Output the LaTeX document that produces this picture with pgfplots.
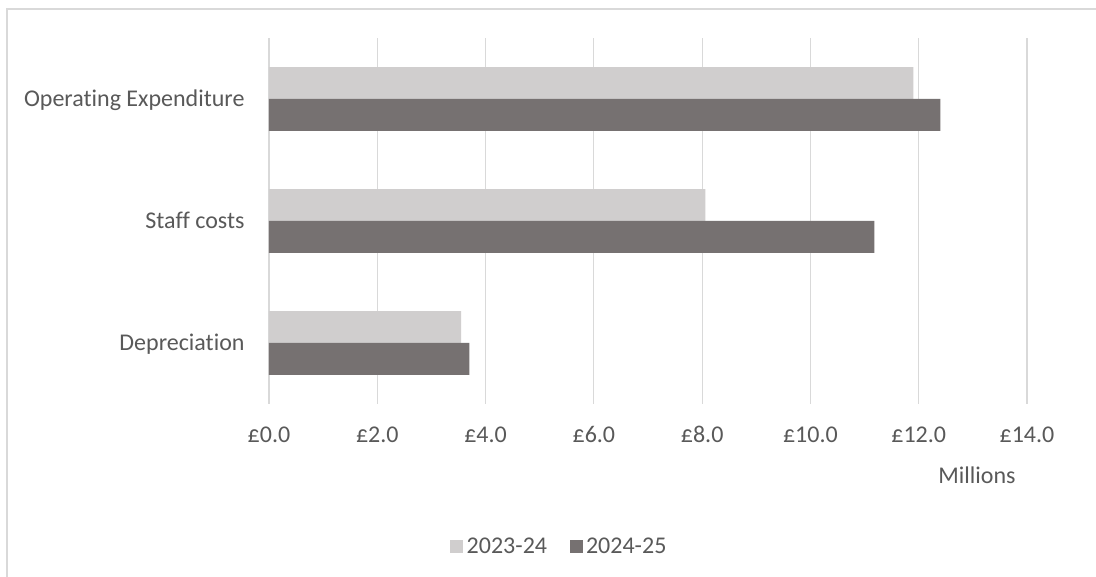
\documentclass[border=0pt]{standalone}
\usepackage{fontspec}
\setmainfont{Carlito}[Ligatures=NoCommon]
\usepackage{pgfplots}
\pgfplotsset{compat=1.18}

\definecolor{barlight}{HTML}{D0CECE}
\definecolor{bardark}{HTML}{767171}
\definecolor{textgray}{HTML}{595959}
\definecolor{gridgray}{HTML}{D9D9D9}

\newcommand{\chartfont}{\fontsize{24}{29}\selectfont}

\begin{document}
\begin{tikzpicture}[x=1pt,y=1pt]
  % page frame
  \path[use as bounding box] (0,0) rectangle (1096,577);
  \fill[white] (0,0) rectangle (1096,577);
  \draw[gridgray, line width=1.5pt] (7,0) -- (7,568) -- (1096,568);

  \begin{axis}[
    at={(269pt,173pt)}, anchor=south west,
    scale only axis,
    width=758pt, height=366pt,
    xmin=0, xmax=14,
    ymin=-0.5, ymax=2.5,
    axis line style={draw=none},
    major tick style={draw=none},
    xmajorgrids,
    grid style={gridgray, line width=1.2pt},
    xtick={0,2,4,6,8,10,12,14},
    xticklabels={£0.0,£2.0,£4.0,£6.0,£8.0,£10.0,£12.0,£14.0},
    ytick={0,1,2},
    yticklabels={Depreciation,Staff costs,Operating Expenditure},
    xticklabel style={font=\chartfont, text=textgray, anchor=base, inner sep=0pt, yshift=-38.5pt},
    yticklabel style={font=\chartfont, text=textgray, anchor=base east, inner sep=0pt, xshift=-20pt, yshift=-8pt},
    xlabel={Millions},
    xlabel style={font=\chartfont, text=textgray, at={(axis description cs:0.934,-0.216)}, anchor=base, inner sep=0pt},
    xbar, bar width=0.262, bar shift=0pt,
    legend columns=2,
    legend style={draw=none, fill=none, font=\chartfont, text=textgray,
      at={(axis description cs:0.384,-0.388)}, anchor=center,
      nodes={inner sep=3.5pt},
      /tikz/every even column/.append style={column sep=19pt}},
    legend image code/.code={\fill[#1] (0pt,-6.5pt) rectangle (13pt,6.5pt);},
  ]
    % 2023-24 (upper bar of each pair)
    \addplot[draw=none, fill=barlight] coordinates {
      (3.55,0.131) (8.06,1.131) (11.90,2.131)
    };
    \addlegendentry{2023-24}
    % 2024-25 (lower bar of each pair)
    \addplot[draw=none, fill=bardark] coordinates {
      (3.70,-0.131) (11.18,0.869) (12.40,1.869)
    };
    \addlegendentry{2024-25}
  \end{axis}
\end{tikzpicture}
\end{document}
